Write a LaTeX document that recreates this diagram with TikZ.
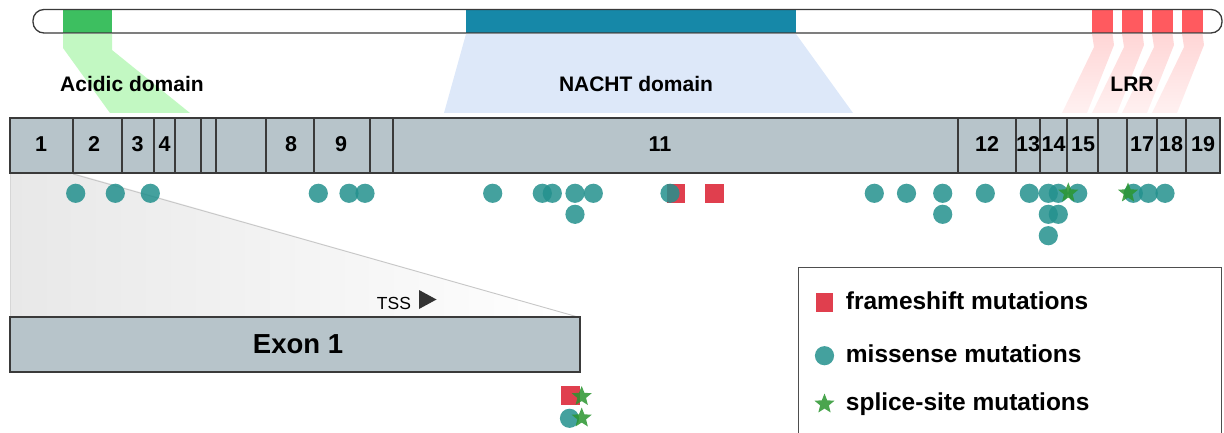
\documentclass[tikz,border=0pt]{standalone}
\usepackage{fontspec}
\setmainfont{Liberation Sans}
\usetikzlibrary{shapes.geometric}

\definecolor{exonfill}{HTML}{B7C4CA}
\definecolor{edgegray}{HTML}{3A3A3A}
\definecolor{acid}{HTML}{3DBF60}
\definecolor{acidlt}{HTML}{C2F8C2}
\definecolor{nacht}{HTML}{1688A8}
\definecolor{nachtlt}{HTML}{DDE8F9}
\definecolor{lrr}{HTML}{FF5A5F}
\definecolor{lrrlt}{HTML}{FFD6D6}
\definecolor{miss}{HTML}{23908D}
\definecolor{frame}{HTML}{DE3545}
\definecolor{splice}{HTML}{2A952F}

\tikzset{
  exonbox/.style={draw=edgegray, line width=1.1pt, fill=exonfill},
  exnum/.style={font=\bfseries\fontsize{21.5}{24}\selectfont, inner sep=0pt, anchor=base},
  domlabel/.style={font=\bfseries\fontsize{21}{24}\selectfont, inner sep=0pt, anchor=base},
  legtext/.style={font=\bfseries\fontsize{24.5}{28}\selectfont, inner sep=0pt, anchor=base west},
  missdot/.style={fill=miss, fill opacity=0.85},
  fsq/.style={fill=frame, fill opacity=0.95},
  sstar/.style={star, star points=5, star point ratio=2.3, minimum size=21pt,
    inner sep=0pt, fill=splice, fill opacity=0.85},
}

\begin{document}
\begin{tikzpicture}[x=1pt,y=-1pt]
\useasboundingbox (0,0) rectangle (1224,433);

% ---- protein bar with domains ----
\fill[white, rounded corners=11pt] (33,9.5) rectangle (1222,33);
\fill[acid] (63,9.5) rectangle (112,33);
\fill[nacht] (466,9.5) rectangle (796,33);
\foreach \x in {1092,1122,1152,1182}
  \fill[lrr] (\x,9.5) rectangle ++(20.5,23.5);
\draw[edgegray, line width=1.3pt, rounded corners=11pt] (33,9.5) rectangle (1222,33);

% domain projections onto the exon track
\fill[acidlt] (63,34) -- (112,34) -- (112,50) -- (190,113) -- (110,113) -- (63,48) -- cycle;
\fill[nachtlt] (466,34) -- (796,34) -- (853,113) -- (444,113) -- cycle;
\foreach \x in {1092,1122,1152,1182}
  \shade[top color=lrrlt, bottom color=lrrlt!35!white]
    (\x,34) -- (\x+20.5,34) -- (\x+22,45) -- (\x-5,113) -- (\x-30,113) -- (\x+2,47) -- cycle;

\node[domlabel] (acidic) at (132,92) {Acidic domain};
\node[domlabel] (nachtlab) at (636,92) {NACHT domain};
\node[domlabel] (lrrlab) at (1132,92) {LRR};

% ---- zoom of exon 1 ----
\shade[left color=black!9, right color=white] (10,173) -- (73,173) -- (580,317) -- (10,317) -- cycle;
\draw[black!22, line width=0.9pt] (73,174) -- (578,317);
\draw[black!16, line width=0.9pt] (10.5,173) -- (10.5,317);

% ---- exon track ----
\foreach \a/\b in {10/73,73/122,122/154,154/175,175/201,201/216,216/266,266/314,314/370,
  370/393,393/958,958/1016,1016/1040,1040/1067,1067/1098,1098/1127,1127/1157,1157/1186,1186/1220}
  \draw[exonbox] (\a,118) rectangle (\b,173);

\node[exnum] (n1) at (41,152) {1};
\node[exnum] (n2) at (94,152) {2};
\node[exnum] (n3) at (137.5,152) {3};
\node[exnum] (n4) at (164.5,152) {4};
\node[exnum] (n8) at (291,152) {8};
\node[exnum] (n9) at (341,152) {9};
\node[exnum] (n11) at (660,152) {11};
\node[exnum] (n12) at (987,152) {12};
\node[exnum] (n13) at (1028,152) {13};
\node[exnum] (n14) at (1053.5,152) {14};
\node[exnum] (n15) at (1083,152) {15};
\node[exnum] (n17) at (1142,152) {17};
\node[exnum] (n18) at (1171,152) {18};
\node[exnum] (n19) at (1203,152) {19};

% exon 1 enlarged
\draw[exonbox] (10,317) rectangle (580,372);
\node[font=\bfseries\fontsize{27.5}{30}\selectfont, inner sep=0pt, anchor=base] (exon1) at (298,353.5) {Exon 1};
\node[font=\fontsize{17.5}{20}\selectfont, inner sep=0pt, anchor=base] (tss) at (394,309) {TSS};
\fill[black!80] (419,290) -- (436.5,299.5) -- (419,309) -- cycle;

% ---- mutations ----
\foreach \x in {676, 714.5}
  \fill[fsq] (\x-9.3,183.8) rectangle (\x+9.3,202.8);
\fill[fsq] (561,386) rectangle (579.5,405);

\foreach \x in {75.7,115.3,150.3,318.3,349,365,492.7,542.3,552.3,575,593.3,670,874.3,906.5,
  942.7,985.3,1029.3,1048.3,1058.3,1077.7,1133.3,1148.3,1165}
  \fill[missdot] (\x,193.3) circle[radius=9.6pt];
\foreach \x in {575,942.7,1048.3,1058.3}
  \fill[missdot] (\x,214.3) circle[radius=9.6pt];
\fill[missdot] (1048.3,235.7) circle[radius=9.6pt];
\fill[missdot] (569.5,418.3) circle[radius=9.6pt];

\node[sstar] (s1) at (1068.3,193) {};
\node[sstar] (s2) at (1128,193) {};
\node[sstar] (s3) at (581.7,396.5) {};
\node[sstar] (s4) at (581.7,418) {};

% ---- legend ----
\draw[edgegray!90, line width=1pt] (798.5,267) rectangle (1221.5,450);
\fill[fsq] (815.7,293) rectangle (833.3,311.5);
\node[legtext] (lf) at (845.7,309.5) {frameshift mutations};
\fill[missdot] (824.5,355.7) circle[radius=9.6pt];
\node[legtext] (lm) at (845.7,362) {missense mutations};
\node[sstar] (ls) at (824.5,404) {};
\node[legtext] (lsp) at (845.7,410) {splice-site mutations};
\end{tikzpicture}
\end{document}
